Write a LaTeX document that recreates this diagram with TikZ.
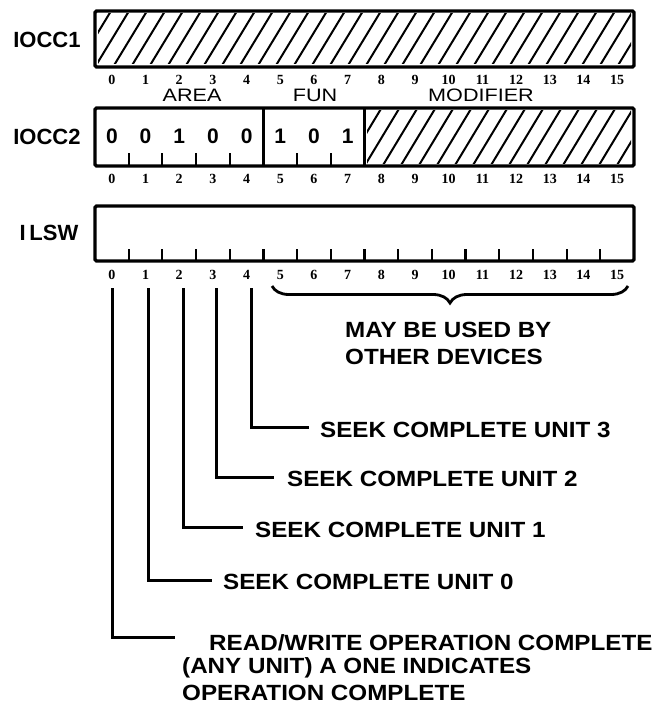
\documentclass[tikz,border=0pt]{standalone}
\usepackage{fontspec}
\usetikzlibrary{decorations.pathreplacing}
\newfontfamily\plainsans{Liberation Sans}
\newfontfamily\widesans{Liberation Sans}[FakeStretch=1.1]
\newfontfamily\fieldsans{Liberation Sans}[FakeStretch=1.2]
\newfontfamily\numserif{Liberation Serif}
\tikzset{
  regbox/.style={line width=3.4pt, rounded corners=1.5pt},
  divider/.style={line width=2.8pt},
  tickmark/.style={line width=2.2pt},
  hatchline/.style={line width=2pt},
  lead/.style={line width=3pt},
  bracestyle/.style={line width=2.8pt, decorate, decoration={brace, amplitude=17pt, mirror}},
  bitnum/.style={font=\numserif\bfseries\fontsize{14}{16}\selectfont, inner sep=0pt},
  regname/.style={font=\plainsans\bfseries\fontsize{22}{26}\selectfont, inner sep=0pt},
  desc/.style={font=\widesans\bfseries\fontsize{22}{26}\selectfont, inner sep=0pt, anchor=west},
  fieldname/.style={font=\fieldsans\fontsize{18}{22}\selectfont, inner sep=0pt},
  digit/.style={font=\plainsans\bfseries\fontsize{21}{25}\selectfont, inner sep=0pt}
}
\begin{document}
\begin{tikzpicture}[x=1pt,y=-1pt]
\useasboundingbox (0,0) rectangle (653,706);
\fill[white] (0,0) rectangle (653,706);
\def\cw{33.6875}

% ---------- IOCC1 ----------
\begin{scope}
  \clip (98,14) rectangle (631,64);
  \foreach \i in {-3,...,31} \draw[hatchline] ({95+\i*18},67) -- ({95+\i*18+34},11);
\end{scope}
\node[regbox, draw, minimum width=539pt, minimum height=56pt, inner sep=0pt] (r1) at (364.5,39) {};
\node[regname] (n1) at (47,40) {IOCC1};
\foreach \k in {0,...,15} \node[bitnum] (a\k) at ({95+(\k+0.5)*\cw},80) {\k};

% field names
\node[fieldname] (farea) at (192,95) {AREA};
\node[fieldname] (ffun) at (315,95) {FUN};
\node[fieldname] (fmod) at (481,95) {MODIFIER};

% ---------- IOCC2 ----------
\begin{scope}
  \clip (367,111) rectangle (631,163);
  \foreach \i in {-3,...,15} \draw[hatchline] ({364.5+\i*18},166) -- ({364.5+\i*18+35},108);
\end{scope}
\node[regbox, draw, minimum width=539pt, minimum height=58pt, inner sep=0pt] (r2) at (364.5,137) {};
\draw[divider] ({95+5*\cw},108) -- ({95+5*\cw},166);
\draw[divider] ({95+8*\cw},108) -- ({95+8*\cw},166);
\foreach \k in {1,2,3,4,6,7} \draw[tickmark] ({95+\k*\cw},166) -- ({95+\k*\cw},153);
\node[regname] (n2) at (47,137) {IOCC2};
\foreach \k/\v in {0/0,1/0,2/1,3/0,4/0,5/1,6/0,7/1}
  \node[digit] (d\k) at ({95+(\k+0.5)*\cw},136) {\v};
\foreach \k in {0,...,15} \node[bitnum] (b\k) at ({95+(\k+0.5)*\cw},179) {\k};

% ---------- ILSW ----------
\node[regbox, draw, minimum width=539pt, minimum height=55pt, inner sep=0pt] (r3) at (364.5,233.5) {};
\foreach \k in {1,...,15} \draw[tickmark] ({95+\k*\cw},261) -- ({95+\k*\cw},249);
\node[regname] (n3) at (49,233) {I\,LSW};
\foreach \k in {0,...,15} \node[bitnum] (c\k) at ({95+(\k+0.5)*\cw},275) {\k};

% brace
\coordinate (brL) at (272,286);
\coordinate (brR) at (628,286);
\draw[bracestyle] (brL) -- (brR);
\node[desc] (may1) at (345,330) {MAY BE USED BY};
\node[desc] (may2) at (345,357) {OTHER DEVICES};

% ---------- leader lines ----------
\coordinate (t0) at (112,288);
\coordinate (t1) at (148,288);
\coordinate (t2) at (183,288);
\coordinate (t3) at (216,288);
\coordinate (t4) at (251,288);
\coordinate (e0) at (175,637);
\coordinate (e1) at (212,580);
\coordinate (e2) at (243,527);
\coordinate (e3) at (274,477);
\coordinate (e4) at (309,427);

\node[desc] (l4) at (320,430) {SEEK COMPLETE UNIT 3};
\node[desc] (l3) at (287,479) {SEEK COMPLETE UNIT 2};
\node[desc] (l2) at (255,530) {SEEK COMPLETE UNIT 1};
\node[desc] (l1) at (223,582) {SEEK COMPLETE UNIT 0};
\node[desc] (l0) at (209,643) {READ/WRITE OPERATION COMPLETE};
\node[desc] (l0b) at (182,668) {(ANY UNIT) A ONE INDICATES};
\node[desc] (l0c) at (182,693) {OPERATION COMPLETE};

\foreach \i in {0,...,4} \draw[lead] (t\i) |- (e\i);
\end{tikzpicture}
\end{document}
